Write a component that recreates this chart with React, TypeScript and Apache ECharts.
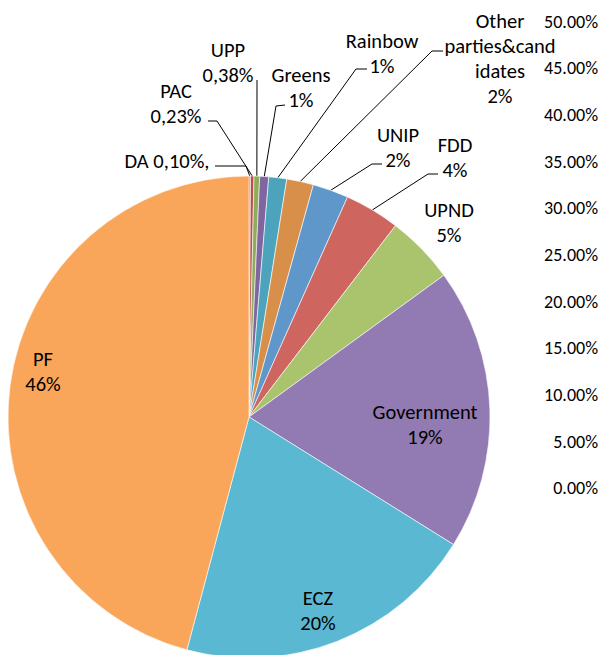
import React, { useEffect, useRef } from "react";
import * as echarts from "echarts";

const categories = ["DA", "PAC", "UPP", "Greens", "Rainbow", "Other parties&candidates", "UNIP", "FDD", "UPND", "Government", "ECZ", "PF"];
const values = [0.1, 0.23, 0.38, 0.6, 1.2, 1.8, 2.4, 3.7, 4.6, 18.9, 20.3, 45.9];
const labelTexts = [
  "DA 0,10%,",
  "PAC\n0,23%",
  "UPP\n0,38%",
  "Greens\n1%",
  "Rainbow\n1%",
  "Other\nparties&cand\nidates\n2%",
  "UNIP\n2%",
  "FDD\n4%",
  "UPND\n5%",
  "Government\n19%",
  "ECZ\n20%",
  "PF\n46%",
];
const axisTicks = [0, 0.05, 0.1, 0.15, 0.2, 0.25, 0.3, 0.35, 0.4, 0.45, 0.5];

const colors = ["#6F87A8", "#BA504C", "#90AC58", "#8066A0", "#4BA4BC", "#D88F4A", "#6097CB", "#CE655F", "#AAC46E", "#927AB2", "#5BB8D2", "#F9A65A"];

// label layout (centre of text block, leader elbow & end) - presentation only
const labelLayoutCfg: { x: number; y: number; line?: [number, number][] }[] = [
  { x: 167, y: 161, line: [[246, 166], [215, 166]] },
  { x: 176, y: 103, line: [[217, 121], [208, 121]] },
  { x: 228, y: 62, line: [[257, 80]] },
  { x: 301, y: 87, line: [[276, 106], [285, 105]] },
  { x: 382, y: 53, line: [[356, 69], [367, 69]] },
  { x: 500, y: 58, line: [[432, 51], [443, 51]] },
  { x: 398, y: 147, line: [[372, 164], [382, 164]] },
  { x: 455, y: 157, line: [[428, 174], [438, 174]] },
  { x: 449, y: 222 },
  { x: 425, y: 424 },
  { x: 318, y: 610 },
  { x: 43, y: 371 },
];

const FONT = "Carlito, Lato, 'Open Sans', sans-serif";

export default function App() {
  const ref = useRef<HTMLDivElement>(null);
  useEffect(() => {
    document.body.style.margin = "0";
    const chart = echarts.init(ref.current!, undefined, { renderer: "svg" });
    const data = categories.map((name, i) => ({
      name,
      value: values[i],
      itemStyle: { color: colors[i] },
      label: { formatter: labelTexts[i] },
      labelLine: { show: !!labelLayoutCfg[i].line },
    }));
    chart.setOption({
      animation: false,
      backgroundColor: "#fff",
      grid: { left: 599, right: 0, top: 21.7, bottom: 166.7 },
      xAxis: { type: "value", show: false },
      yAxis: {
        type: "value",
        min: axisTicks[0],
        max: axisTicks[axisTicks.length - 1],
        interval: axisTicks[1] - axisTicks[0],
        axisLine: { show: false },
        axisTick: { show: false },
        splitLine: { show: false },
        axisLabel: {
          margin: 1,
          color: "#000",
          fontFamily: FONT,
          fontSize: 18,
          formatter: (v: number) => (v * 100).toFixed(2) + "%",
        },
      },
      series: [
        { type: "line", data: [], silent: true },
        {
          type: "pie",
          center: [249, 417],
          radius: 241,
          startAngle: 90,
          clockwise: true,
          avoidLabelOverlap: false,
          itemStyle: { borderColor: "#fff", borderWidth: 0.6 },
          label: {
            show: true,
            position: "outside",
            color: "#000",
            fontFamily: FONT,
            fontSize: 20.5,
            lineHeight: 25,
            align: "center",
          },
          labelLine: { show: true, lineStyle: { color: "#000", width: 1 }, length: 10, length2: 10 },
          labelLayout: (params: any) => {
            const i = params.dataIndex;
            const cfg = labelLayoutCfg[i];
            const res: any = { x: cfg.x, y: cfg.y, align: "center", verticalAlign: "middle" };
            if (cfg.line && params.labelLinePoints) {
              const anchor = params.labelLinePoints[0];
              res.labelLinePoints = [anchor, ...cfg.line];
            }
            return res;
          },
          data,
        },
      ],
    });
    return () => chart.dispose();
  }, []);
  return <div ref={ref} style={{ width: 600, height: 655 }} />;
}
